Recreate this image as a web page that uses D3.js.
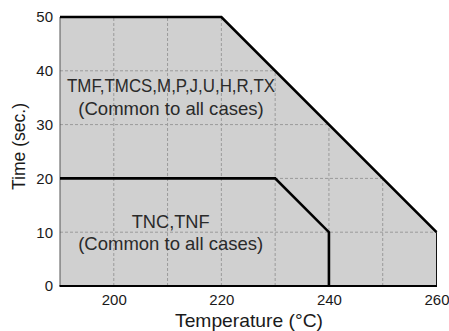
<!DOCTYPE html>
<html>
<head>
<meta charset="utf-8">
<script src="https://cdn.jsdelivr.net/npm/d3@7"></script>
<style>
  body { margin: 0; background: #fff; }
  text { font-family: "Liberation Sans", Arial, Helvetica, sans-serif; }
</style>
</head>
<body>
<svg id="drawing_region"></svg>
<script>
// profile limits, [temperature, seconds]
const outerProfile = [[190, 50], [220, 50], [260, 10]];
const innerProfile = [[190, 20], [230, 20], [240, 10], [240, 0]];
const xTicks = [200, 220, 240, 260];
const xGrid = [200, 210, 220, 230, 240, 250];
const yTicks = [0, 10, 20, 30, 40, 50];
const yGrid = [10, 20, 30, 40];
const outerLabel = ["TMF,TMCS,M,P,J,U,H,R,TX", "(Common to all cases)"];
const innerLabel = ["TNC,TNF", "(Common to all cases)"];

const config = {
    width: 449,
    height: 331,
    margin: {top: 17, right: 12.5, bottom: 45, left: 60}
};

const svg = d3.select('#drawing_region')
    .attr('width', config.width)
    .attr('height', config.height);

const inner_width = config.width - config.margin.left - config.margin.right;
const inner_height = config.height - config.margin.top - config.margin.bottom;

const chart = svg.append('g')
    .attr('transform', `translate(${config.margin.left}, ${config.margin.top})`);

const xscale = d3.scaleLinear().domain([190, 260]).range([0, inner_width]);
const yscale = d3.scaleLinear().domain([0, 50]).range([inner_height, 0]);

// shaded allowed region
const area = d3.area()
    .x(d => xscale(d[0]))
    .y0(yscale(0))
    .y1(d => yscale(d[1]));

chart.append('path')
    .attr('d', area(outerProfile))
    .attr('fill', '#d0d0d0');

chart.append('clipPath')
    .attr('id', 'region')
    .append('path')
    .attr('d', area(outerProfile));

// dashed grid, clipped to the shaded region
const grid = chart.append('g').attr('clip-path', 'url(#region)');
grid.selectAll('.vgrid')
    .data(xGrid)
    .enter()
    .append('line')
    .attr('x1', d => xscale(d)).attr('x2', d => xscale(d))
    .attr('y1', yscale(0)).attr('y2', yscale(50))
    .attr('stroke', '#9a9a9a')
    .attr('stroke-width', 1)
    .attr('stroke-dasharray', '3,2');
grid.selectAll('.hgrid')
    .data(yGrid)
    .enter()
    .append('line')
    .attr('x1', 0).attr('x2', inner_width)
    .attr('y1', d => yscale(d)).attr('y2', d => yscale(d))
    .attr('stroke', '#9a9a9a')
    .attr('stroke-width', 1)
    .attr('stroke-dasharray', '3,2');

// axes (labels only, no tick marks)
const xaxis = d3.axisBottom(xscale).tickValues(xTicks).tickSize(0).tickPadding(8);
const yaxis = d3.axisLeft(yscale).tickValues(yTicks).tickSize(0).tickPadding(7);

const xaxis_group = chart.append('g')
    .attr('transform', `translate(0, ${inner_height})`)
    .call(xaxis);
const yaxis_group = chart.append('g').call(yaxis);

[xaxis_group, yaxis_group].forEach(g => {
    g.select('.domain').remove();
    g.selectAll('text')
        .attr('font-size', 15)
        .attr('fill', '#1a1a1a')
        .style('font-family', '"Liberation Sans", Arial, sans-serif');
});

chart.append('line')
    .attr('x1', 0).attr('x2', 0)
    .attr('y1', yscale(0)).attr('y2', yscale(50))
    .attr('stroke', '#555').attr('stroke-width', 1);

chart.append('line')
    .attr('x1', xscale(260)).attr('x2', xscale(260))
    .attr('y1', yscale(0)).attr('y2', yscale(10))
    .attr('stroke', '#111').attr('stroke-width', 1);

chart.append('line')
    .attr('x1', -0.5).attr('x2', inner_width + 0.5)
    .attr('y1', yscale(0)).attr('y2', yscale(0))
    .attr('stroke', '#000').attr('stroke-width', 1.8);

// profile lines
const line = d3.line()
    .x(d => xscale(d[0]))
    .y(d => yscale(d[1]));

chart.selectAll('.profile')
    .data([outerProfile, innerProfile])
    .enter()
    .append('path')
    .attr('d', d => line(d))
    .attr('fill', 'none')
    .attr('stroke', '#000')
    .attr('stroke-width', 2.6)
    .attr('stroke-linejoin', 'miter');

// annotations
const label = (lines, cx, ys, lens, size) => {
    lines.forEach((t, i) => {
        svg.append('text')
            .attr('x', cx)
            .attr('y', ys[i])
            .attr('text-anchor', 'middle')
            .attr('font-size', size[i])
            .attr('fill', '#2a2a2a')
            .attr('textLength', lens[i])
            .attr('lengthAdjust', 'spacingAndGlyphs')
            .text(t);
    });
};
label(outerLabel, 171, [92, 114.5], [208, 185.5], [17.5, 18.5]);
label(innerLabel, 170.7, [228.3, 250], [78, 185], [18.5, 18.5]);

// axis titles
svg.append('text')
    .attr('x', 249)
    .attr('y', 327)
    .attr('text-anchor', 'middle')
    .attr('font-size', 19)
    .attr('fill', '#1a1a1a')
    .attr('textLength', 148)
    .attr('lengthAdjust', 'spacingAndGlyphs')
    .text('Temperature (°C)');

svg.append('text')
    .attr('transform', 'translate(24.5, 146.5) rotate(-90)')
    .attr('text-anchor', 'middle')
    .attr('font-size', 18.5)
    .attr('fill', '#1a1a1a')
    .attr('textLength', 87)
    .attr('lengthAdjust', 'spacingAndGlyphs')
    .text('Time (sec.)');
</script>
</body>
</html>
